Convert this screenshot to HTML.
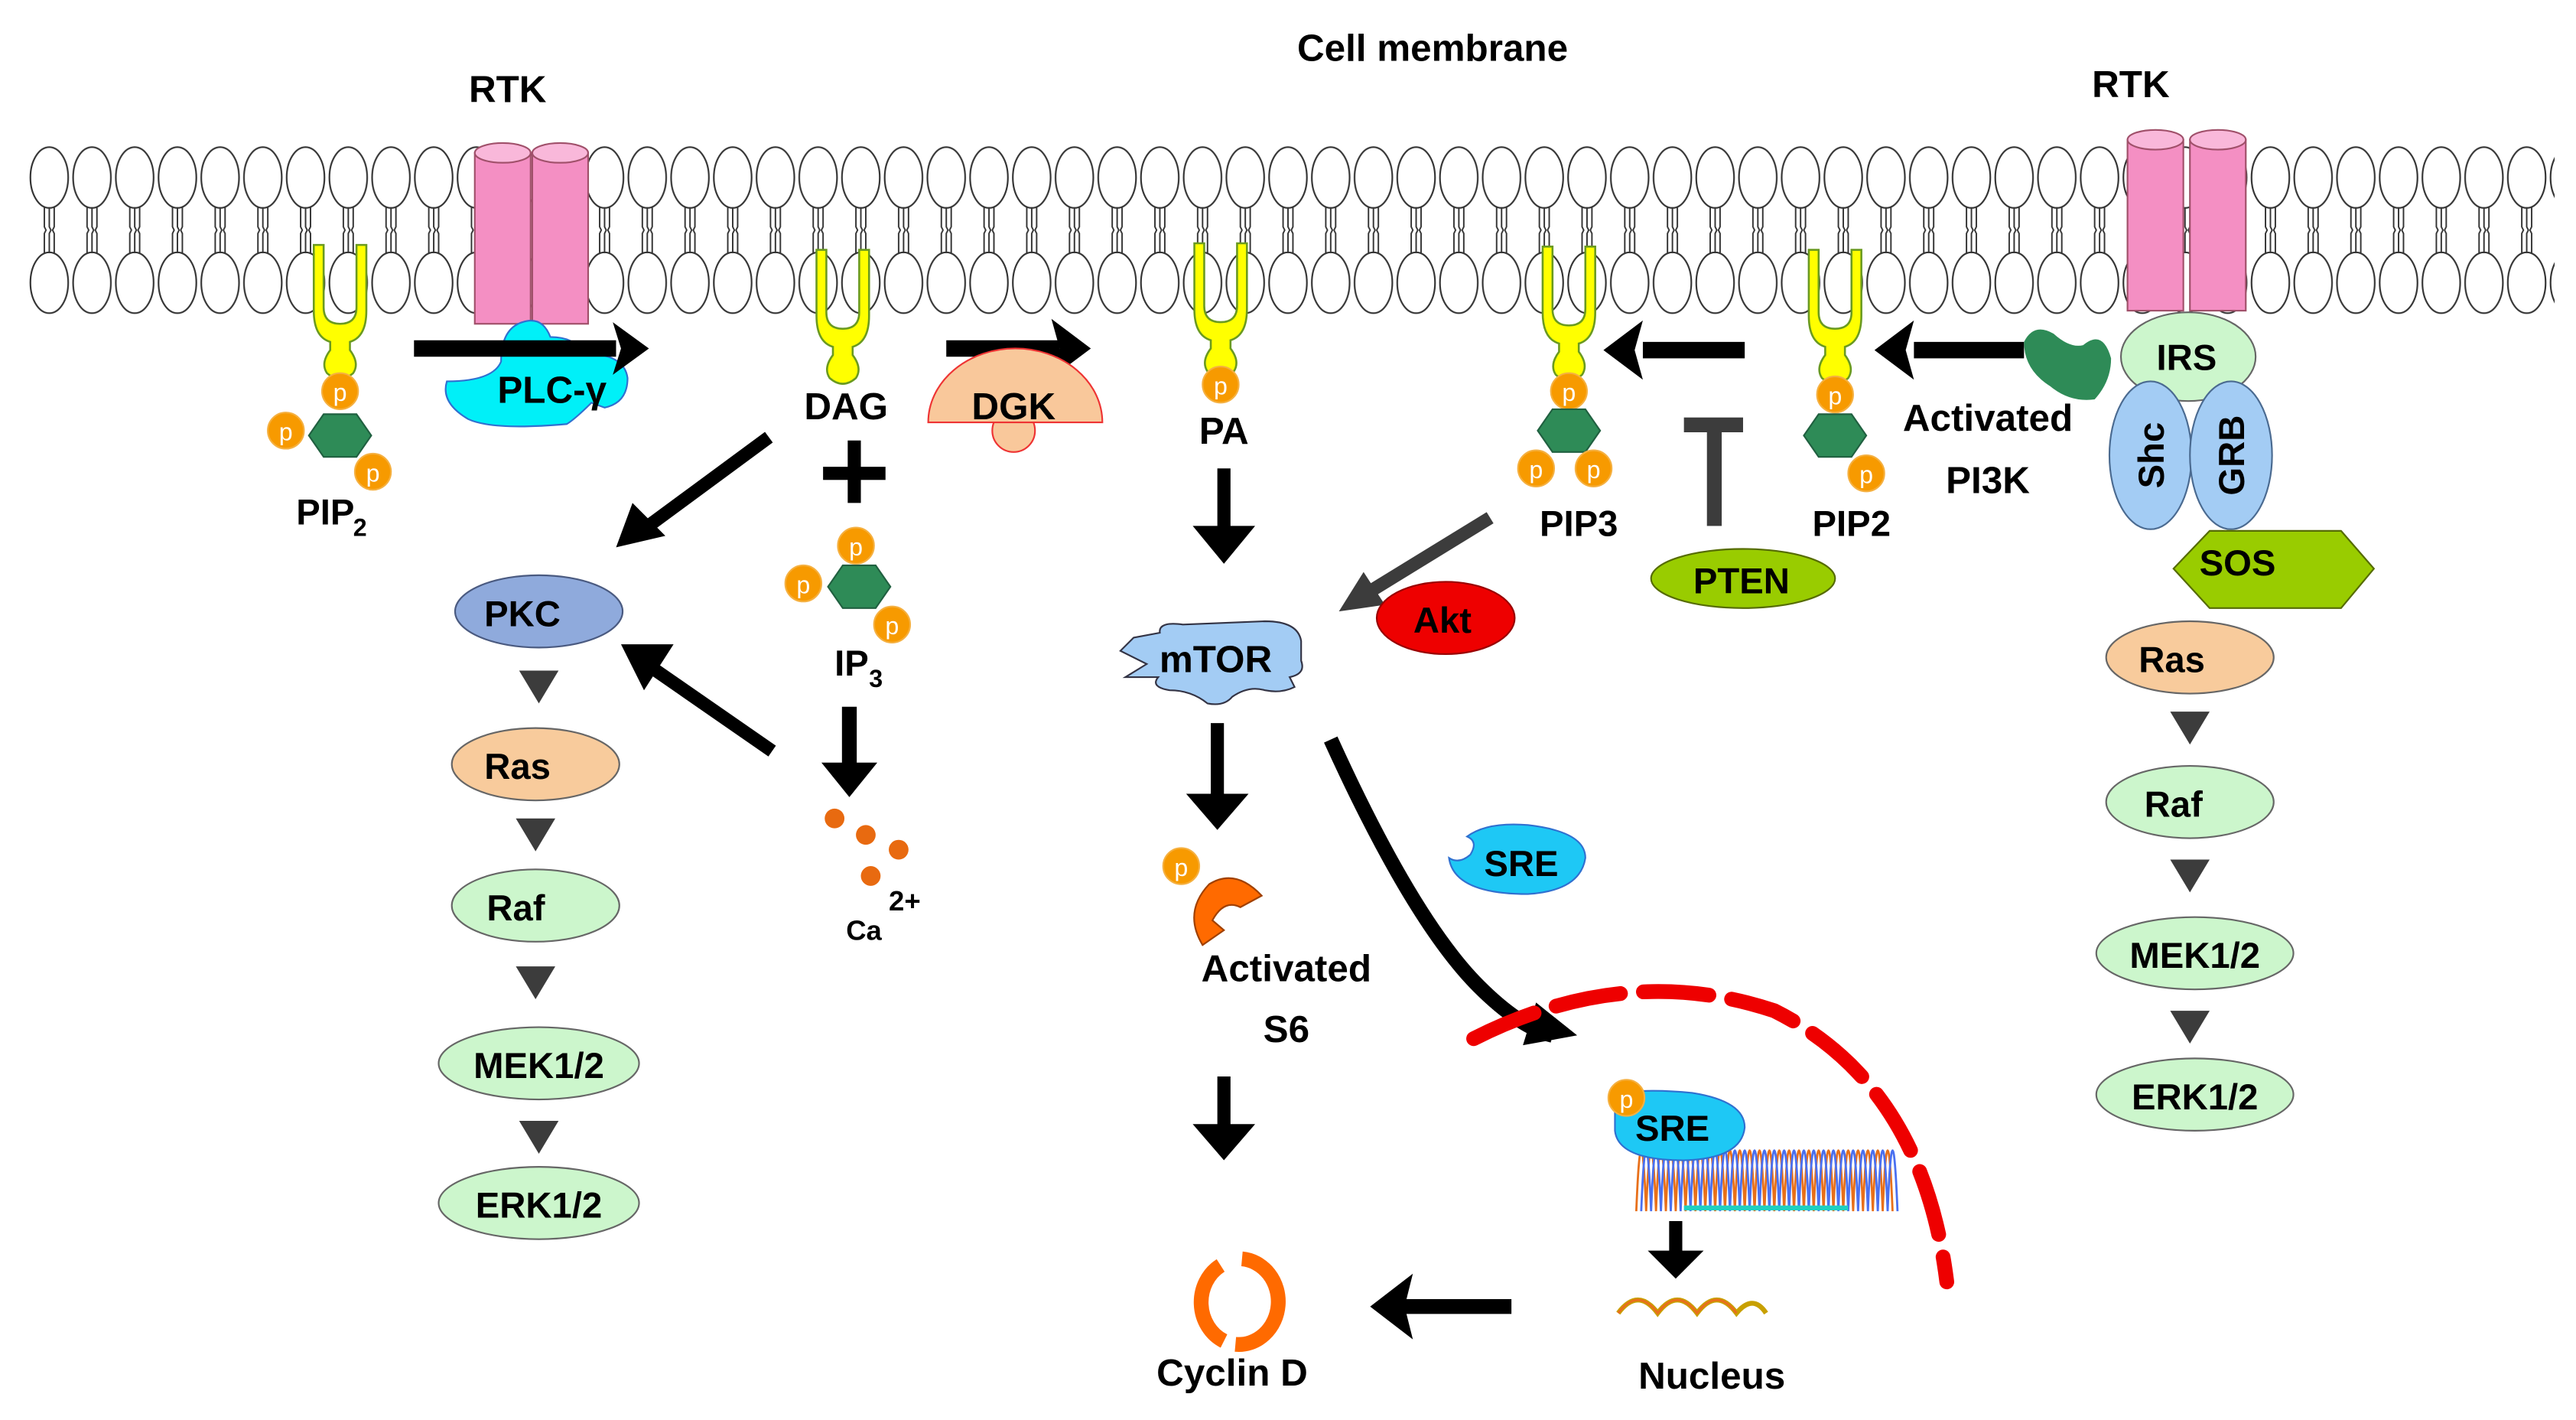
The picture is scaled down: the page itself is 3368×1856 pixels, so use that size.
<!DOCTYPE html>
<html><head><meta charset="utf-8"><style>
html,body{margin:0;padding:0;background:#fff;}
svg{display:block;}
text{font-family:"Liberation Sans",sans-serif;font-weight:bold;fill:#000;}
</style></head><body>
<svg width="3368" height="1856" viewBox="0 0 1568 864" xmlns="http://www.w3.org/2000/svg">
<defs>
<pattern id="mem" patternUnits="userSpaceOnUse" x="17" y="89" width="26" height="102">
<ellipse cx="13" cy="19" rx="11.5" ry="18.5" fill="#fff" stroke="#333" stroke-width="1"/>
<ellipse cx="13" cy="83" rx="11.5" ry="18.5" fill="#fff" stroke="#333" stroke-width="1"/>
<path d="M10,37 L10,49 L11,51 L10,53 L10,65 M13,37 L13,49 L14,51 L13,53 L13,65 M16,37 L16,49 L15,51 L16,53 L16,65" stroke="#333" stroke-width="0.9" fill="none"/>
</pattern>
<g id="yy"><path d="M-16,-70 L-16,-30 Q-16,-14 -6,-11 L-6,-6 Q-12,2 -8,8 Q0,15 8,8 Q12,2 6,-6 L6,-11 Q16,-14 16,-30 L16,-70 L10,-70 L10,-32 Q10,-22 0,-22 Q-10,-22 -10,-32 L-10,-70 Z" fill="#ffff00" stroke="#6a9a20" stroke-width="1.2"/></g>
<g id="pp"><circle r="11" fill="#f79a00" stroke="#f5b040" stroke-width="1"/><text y="6" text-anchor="middle" font-size="15" style="fill:#fff;font-weight:normal">p</text></g>
<g id="hex"><polygon points="-19,0 -10,-13 10,-13 19,0 10,13 -10,13" fill="#2e8b57" stroke="#206040" stroke-width="1"/></g>
<g id="tri"><polygon points="-12,-10 12,-10 0,10" fill="#3c3c3c"/></g>
</defs>

<text x="872" y="37" text-anchor="middle" font-size="23">Cell membrane</text>
<text x="309" y="62" text-anchor="middle" font-size="23">RTK</text>
<text x="1297" y="59" text-anchor="middle" font-size="23">RTK</text>

<rect x="17" y="89" width="1538" height="102" fill="url(#mem)"/>

<!-- RTK left -->
<rect x="289" y="93" width="34" height="104" fill="#f48fc3" stroke="#a0506a"/>
<ellipse cx="306" cy="93" rx="17" ry="6" fill="#f9b8da" stroke="#a0506a"/>
<rect x="324" y="93" width="34" height="104" fill="#f48fc3" stroke="#a0506a"/>
<ellipse cx="341" cy="93" rx="17" ry="6" fill="#f9b8da" stroke="#a0506a"/>
<!-- RTK right -->
<rect x="1295" y="85" width="34" height="104" fill="#f48fc3" stroke="#a0506a"/>
<ellipse cx="1312" cy="85" rx="17" ry="6" fill="#f9b8da" stroke="#a0506a"/>
<rect x="1333" y="85" width="34" height="104" fill="#f48fc3" stroke="#a0506a"/>
<ellipse cx="1350" cy="85" rx="17" ry="6" fill="#f9b8da" stroke="#a0506a"/>

<use href="#yy" x="207" y="219"/>
<use href="#yy" x="513" y="222"/>
<use href="#yy" x="743" y="218"/>
<use href="#yy" x="955" y="220"/>
<use href="#yy" x="1117" y="222"/>

<!-- PLC -->
<path d="M318,196 Q330,192 335,205 Q350,205 355,215 Q380,215 382,230 Q382,245 368,248 L360,245 Q350,255 345,258 Q300,262 285,255 Q268,245 272,232 Q300,232 305,220 Q305,200 318,196 Z" fill="#00f0f8" stroke="#3070d0" stroke-width="1"/>
<line x1="252" y1="212" x2="375" y2="212" stroke="#000" stroke-width="10"/>
<polygon points="373,196 395,212 373,228 378,212" fill="#000"/>
<text x="336" y="245" text-anchor="middle" font-size="23">PLC-γ</text>
<line x1="576" y1="212" x2="645" y2="212" stroke="#000" stroke-width="10"/>
<polygon points="640,194 664,212 640,230 645,212" fill="#000"/>
<line x1="1062" y1="213" x2="1000" y2="213" stroke="#000" stroke-width="10"/>
<polygon points="1000,195 976,213 1000,231 995,213" fill="#000"/>
<line x1="1232" y1="213" x2="1165" y2="213" stroke="#000" stroke-width="10"/>
<polygon points="1165,195 1141,213 1165,231 1160,213" fill="#000"/>

<path d="M1232,208 Q1238,196 1250,203 Q1260,212 1268,210 Q1280,200 1285,218 Q1285,232 1275,243 Q1260,245 1248,235 Q1232,225 1232,208 Z" fill="#2e8b57"/>

<!-- DGK -->
<circle cx="617" cy="262" r="13" fill="#f9c89b" stroke="#e33"/>
<path d="M565,257 A53,45 0 0 1 671,257 Z" fill="#f9c89b" stroke="#e33" stroke-width="1"/>
<text x="617" y="255" text-anchor="middle" font-size="23">DGK</text>

<use href="#hex" x="207" y="265"/>
<use href="#pp" x="207" y="238"/><use href="#pp" x="174" y="262"/><use href="#pp" x="227" y="287"/>
<text x="198" y="319" font-size="22" text-anchor="middle">PIP</text><text x="215" y="326" font-size="15">2</text>

<text x="515" y="255" text-anchor="middle" font-size="23">DAG</text>
<text x="745" y="270" text-anchor="middle" font-size="23">PA</text>
<use href="#pp" x="743" y="234"/>

<rect x="501" y="284" width="38" height="8" fill="#000"/><rect x="516" y="268" width="8" height="38" fill="#000"/>

<line x1="468" y1="266" x2="392" y2="322" stroke="#000" stroke-width="8"/>
<polygon points="375,333 385,306 405,326" fill="#000"/>

<use href="#hex" x="523" y="357"/>
<use href="#pp" x="521" y="332"/><use href="#pp" x="489" y="355"/><use href="#pp" x="543" y="380"/>
<text x="508" y="411" font-size="22">IP</text><text x="529" y="418" font-size="15">3</text>
<line x1="517" y1="430" x2="517" y2="470" stroke="#000" stroke-width="9"/>
<polygon points="500,464 534,464 517,485" fill="#000"/>
<circle cx="508" cy="498" r="6" fill="#e86a10"/><circle cx="527" cy="508" r="6" fill="#e86a10"/><circle cx="547" cy="517" r="6" fill="#e86a10"/><circle cx="530" cy="533" r="6" fill="#e86a10"/>
<text x="541" y="554" font-size="17">2+</text><text x="515" y="572" font-size="17">Ca</text>
<line x1="470" y1="457" x2="395" y2="405" stroke="#000" stroke-width="8"/>
<polygon points="378,392 410,392 392,420" fill="#000"/>

<ellipse cx="328" cy="372" rx="51" ry="22" fill="#8faadc" stroke="#4a5a80"/>
<text x="318" y="381" text-anchor="middle" font-size="22">PKC</text>
<use href="#tri" x="328" y="418"/>
<ellipse cx="326" cy="465" rx="51" ry="22" fill="#f8cb9c" stroke="#666"/>
<text x="315" y="474" text-anchor="middle" font-size="22">Ras</text>
<use href="#tri" x="326" y="508"/>
<ellipse cx="326" cy="551" rx="51" ry="22" fill="#ccf6cc" stroke="#666"/>
<text x="314" y="560" text-anchor="middle" font-size="22">Raf</text>
<use href="#tri" x="326" y="598"/>
<ellipse cx="328" cy="647" rx="61" ry="22" fill="#ccf6cc" stroke="#666"/>
<text x="328" y="656" text-anchor="middle" font-size="22">MEK1/2</text>
<use href="#tri" x="328" y="692"/>
<ellipse cx="328" cy="732" rx="61" ry="22" fill="#ccf6cc" stroke="#666"/>
<text x="328" y="741" text-anchor="middle" font-size="22">ERK1/2</text>

<line x1="745" y1="285" x2="745" y2="328" stroke="#000" stroke-width="8"/>
<polygon points="726,320 764,320 745,343" fill="#000"/>

<use href="#pp" x="955" y="238"/>
<use href="#hex" x="955" y="262"/>
<use href="#pp" x="935" y="285"/><use href="#pp" x="970" y="285"/>
<text x="961" y="326" text-anchor="middle" font-size="22">PIP3</text>
<line x1="907" y1="315" x2="832" y2="361" stroke="#3c3c3c" stroke-width="8"/>
<polygon points="815,372 830,348 843,368" fill="#3c3c3c"/>
<ellipse cx="880" cy="376" rx="42" ry="22" fill="#ee0000" stroke="#900"/>
<text x="878" y="385" text-anchor="middle" font-size="22">Akt</text>

<rect x="1039" y="258" width="9" height="62" fill="#3c3c3c"/>
<rect x="1025" y="254" width="36" height="9" fill="#3c3c3c"/>
<ellipse cx="1061" cy="352" rx="56" ry="18" fill="#99cc00" stroke="#556b00"/>
<text x="1060" y="361" text-anchor="middle" font-size="22">PTEN</text>

<use href="#pp" x="1117" y="240"/>
<use href="#hex" x="1117" y="265"/>
<use href="#pp" x="1136" y="288"/>
<text x="1127" y="326" text-anchor="middle" font-size="22">PIP2</text>
<text x="1210" y="262" text-anchor="middle" font-size="23">Activated</text>
<text x="1210" y="300" text-anchor="middle" font-size="23">PI3K</text>

<ellipse cx="1332" cy="217" rx="41" ry="27" fill="#ccf6cc" stroke="#666"/>
<text x="1331" y="225" text-anchor="middle" font-size="22">IRS</text>
<ellipse cx="1309" cy="277" rx="25" ry="45" fill="#a3ccf4" stroke="#4a6a90"/>
<ellipse cx="1358" cy="277" rx="25" ry="45" fill="#a3ccf4" stroke="#4a6a90"/>
<text transform="translate(1317,277) rotate(-90)" text-anchor="middle" font-size="22">Shc</text>
<text transform="translate(1366,277) rotate(-90)" text-anchor="middle" font-size="22">GRB</text>
<polygon points="1323,346 1345,323 1425,323 1445,346 1425,370 1345,370" fill="#99cc00" stroke="#556b00"/>
<text x="1362" y="350" text-anchor="middle" font-size="22">SOS</text>
<ellipse cx="1333" cy="400" rx="51" ry="22" fill="#f8cb9c" stroke="#666"/>
<text x="1322" y="409" text-anchor="middle" font-size="22">Ras</text>
<use href="#tri" x="1333" y="443"/>
<ellipse cx="1333" cy="488" rx="51" ry="22" fill="#ccf6cc" stroke="#666"/>
<text x="1323" y="497" text-anchor="middle" font-size="22">Raf</text>
<use href="#tri" x="1333" y="533"/>
<ellipse cx="1336" cy="580" rx="60" ry="22" fill="#ccf6cc" stroke="#666"/>
<text x="1336" y="589" text-anchor="middle" font-size="22">MEK1/2</text>
<use href="#tri" x="1333" y="625"/>
<ellipse cx="1336" cy="666" rx="60" ry="22" fill="#ccf6cc" stroke="#666"/>
<text x="1336" y="675" text-anchor="middle" font-size="22">ERK1/2</text>

<path d="M690,388 L706,385 Q705,378 720,380 L770,378 Q790,378 792,390 L792,402 Q795,410 785,412 L788,418 Q780,422 770,420 Q760,417 750,424 Q745,430 735,428 Q725,420 712,420 Q700,418 705,412 L685,412 L698,404 L682,396 Z" fill="#a3ccf4" stroke="#334"/>
<text x="740" y="409" text-anchor="middle" font-size="23">mTOR</text>

<line x1="741" y1="440" x2="741" y2="488" stroke="#000" stroke-width="8"/>
<polygon points="722,483 760,483 741,505" fill="#000"/>
<path d="M810,450 Q860,560 900,600 Q925,625 945,630" stroke="#000" stroke-width="9" fill="none"/>
<polygon points="935,610 960,630 927,636" fill="#000"/>

<path d="M736,538 Q752,528 768,545 L755,552 Q745,547 738,560 L745,566 L732,575 Q720,555 736,538 Z" fill="#ff6a00" stroke="#a04000"/>
<use href="#pp" x="719" y="527"/>
<text x="783" y="597" text-anchor="middle" font-size="23">Activated</text>
<text x="783" y="634" text-anchor="middle" font-size="23">S6</text>
<line x1="745" y1="655" x2="745" y2="690" stroke="#000" stroke-width="8"/>
<polygon points="726,684 764,684 745,706" fill="#000"/>

<path d="M893,509 Q905,500 930,502 Q965,506 965,522 Q962,542 930,544 Q885,544 882,522 Q888,526 895,520 Q900,512 893,509 Z" fill="#1ec8f5" stroke="#3070d0"/>
<text x="926" y="533" text-anchor="middle" font-size="22">SRE</text>

<path d="M897,632 Q990,585 1080,615 Q1170,660 1185,780" stroke="#e00" stroke-width="9" fill="none" stroke-dasharray="40,14" stroke-linecap="round"/>

<g stroke-width="1.3" fill="none">
<path d="M996,737 q3,-74 6,0 q3,-74 6,0 q3,-74 6,0 q3,-74 6,0 q3,-74 6,0 q3,-74 6,0 q3,-74 6,0 q3,-74 6,0 q3,-74 6,0 q3,-74 6,0 q3,-74 6,0 q3,-74 6,0 q3,-74 6,0 q3,-74 6,0 q3,-74 6,0 q3,-74 6,0 q3,-74 6,0 q3,-74 6,0 q3,-74 6,0 q3,-74 6,0 q3,-74 6,0 q3,-74 6,0 q3,-74 6,0 q3,-74 6,0 q3,-74 6,0 q3,-74 6,0" stroke="#e8701a"/>
<path d="M999,737 q3,-74 6,0 q3,-74 6,0 q3,-74 6,0 q3,-74 6,0 q3,-74 6,0 q3,-74 6,0 q3,-74 6,0 q3,-74 6,0 q3,-74 6,0 q3,-74 6,0 q3,-74 6,0 q3,-74 6,0 q3,-74 6,0 q3,-74 6,0 q3,-74 6,0 q3,-74 6,0 q3,-74 6,0 q3,-74 6,0 q3,-74 6,0 q3,-74 6,0 q3,-74 6,0 q3,-74 6,0 q3,-74 6,0 q3,-74 6,0 q3,-74 6,0 q3,-74 6,0" stroke="#4a70f0"/>
<line x1="1025" y1="735" x2="1125" y2="735" stroke="#20d0c0" stroke-width="3"/>
</g>
<path d="M983,666 Q1000,662 1030,665 Q1062,670 1062,686 Q1060,705 1025,706 Q985,706 983,688 Z" fill="#1ec8f5" stroke="#3070d0"/>
<use href="#pp" x="990" y="668"/>
<text x="1018" y="694" text-anchor="middle" font-size="22">SRE</text>

<line x1="1020" y1="743" x2="1020" y2="765" stroke="#000" stroke-width="8"/>
<polygon points="1003,761 1037,761 1020,778" fill="#000"/>
<path d="M985,799 q12,-16 24,0 q12,-16 24,0 q12,-16 24,0 q10,-12 18,0" stroke="#c8a000" stroke-width="3" fill="none"/>
<path d="M985,799 q12,-16 24,0 q12,-16 24,0 q12,-16 24,0" stroke="#e8701a" stroke-width="1.5" fill="none"/>
<text x="1042" y="845" text-anchor="middle" font-size="23">Nucleus</text>

<line x1="920" y1="795" x2="855" y2="795" stroke="#000" stroke-width="9"/>
<polygon points="860,775 834,795 860,815 855,795" fill="#000"/>
<path d="M743,770 A24,26 0 0 0 745,816" stroke="#ff6a00" stroke-width="9" fill="none"/>
<path d="M756,766 A24,26 0 0 1 752,818" stroke="#ff6a00" stroke-width="9" fill="none"/>
<text x="750" y="843" text-anchor="middle" font-size="23">Cyclin D</text>
</svg>
</body></html>
